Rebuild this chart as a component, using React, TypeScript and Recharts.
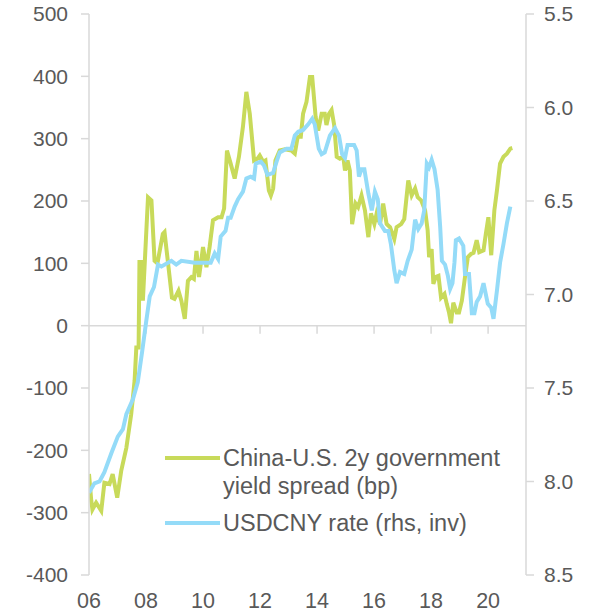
import { Line, LineChart, ReferenceLine, XAxis, YAxis } from 'recharts';

const spreadYears = [
  2006.0, 2006.08, 2006.12, 2006.25, 2006.43, 2006.54, 2006.72, 2006.83, 2006.99, 2007.13,
  2007.31, 2007.48, 2007.6, 2007.66, 2007.74, 2007.77, 2007.83, 2007.89, 2008.07, 2008.19,
  2008.3, 2008.4, 2008.59, 2008.65, 2008.91, 2009.0, 2009.14, 2009.24, 2009.36, 2009.47,
  2009.59, 2009.68, 2009.77, 2009.86, 2010.0, 2010.12, 2010.23, 2010.35, 2010.53, 2010.65,
  2010.74, 2010.84, 2010.97, 2011.11, 2011.26, 2011.4, 2011.52, 2011.64, 2011.79, 2011.91,
  2011.99, 2012.11, 2012.19, 2012.31, 2012.38, 2012.46, 2012.54, 2012.69, 2012.87, 2013.1,
  2013.22, 2013.32, 2013.43, 2013.51, 2013.63, 2013.75, 2013.83, 2013.95, 2014.04, 2014.16,
  2014.27, 2014.33, 2014.42, 2014.51, 2014.6, 2014.69, 2014.8, 2014.92, 2014.98, 2015.07,
  2015.15, 2015.23, 2015.35, 2015.44, 2015.56, 2015.68, 2015.8, 2015.89, 2016.01, 2016.09,
  2016.21, 2016.32, 2016.44, 2016.56, 2016.71, 2016.79, 2016.95, 2017.06, 2017.2, 2017.32,
  2017.44, 2017.53, 2017.65, 2017.79, 2017.88, 2017.93, 2018.02, 2018.08, 2018.16, 2018.26,
  2018.35, 2018.47, 2018.55, 2018.63, 2018.7, 2018.78, 2018.9, 2018.98, 2019.08, 2019.19,
  2019.29, 2019.4, 2019.49, 2019.6, 2019.69, 2019.84, 2019.92, 2020.01, 2020.11, 2020.22,
  2020.31, 2020.42, 2020.54, 2020.66, 2020.78, 2020.85,
]
const spreadBp = [
  -238, -281, -295, -284, -297, -252, -254, -238, -276, -233,
  -196, -142, -88, -35, -35, 102, 102, 40, 206, 201,
  104, 100, 147, 150, 45, 43, 56, 40, 11, 72,
  78, 75, 120, 78, 126, 94, 126, 169, 174, 174,
  188, 281, 260, 236, 271, 319, 375, 340, 265, 268,
  273, 263, 265, 217, 209, 220, 265, 281, 283, 281,
  276, 303, 303, 340, 359, 399, 399, 335, 313, 340,
  340, 322, 340, 346, 322, 271, 268, 271, 249, 265,
  249, 163, 196, 190, 209, 185, 142, 180, 163, 180,
  163, 196, 163, 158, 139, 158, 163, 171, 233, 209,
  220, 206, 201, 185, 153, 110, 123, 67, 78, 80,
  45, 51, 35, 21, 4, 37, 21, 21, 40, 78,
  110, 115, 117, 137, 118, 121, 147, 174, 113, 185,
  217, 260, 271, 276, 284, 285,
]

const fxYears = [
  2006.0, 2006.19, 2006.37, 2006.54, 2006.78, 2007.01, 2007.19, 2007.31, 2007.54, 2007.71,
  2007.86, 2008.01, 2008.13, 2008.28, 2008.42, 2008.54, 2008.89, 2009.06, 2009.24, 2009.71,
  2010.27, 2010.41, 2010.53, 2010.62, 2010.79, 2010.88, 2010.97, 2011.11, 2011.23, 2011.4,
  2011.52, 2011.67, 2011.79, 2011.85, 2012.03, 2012.14, 2012.26, 2012.46, 2012.58, 2012.69,
  2012.93, 2013.1, 2013.22, 2013.34, 2013.51, 2013.69, 2013.83, 2013.92, 2014.06, 2014.16,
  2014.27, 2014.45, 2014.63, 2014.77, 2014.88, 2014.98, 2015.07, 2015.3, 2015.39, 2015.47,
  2015.56, 2015.66, 2015.8, 2015.92, 2016.03, 2016.13, 2016.21, 2016.38, 2016.5, 2016.59,
  2016.71, 2016.79, 2016.91, 2017.06, 2017.18, 2017.32, 2017.44, 2017.55, 2017.67, 2017.76,
  2017.85, 2017.93, 2018.02, 2018.12, 2018.23, 2018.32, 2018.38, 2018.49, 2018.59, 2018.67,
  2018.75, 2018.82, 2018.87, 2018.98, 2019.13, 2019.19, 2019.33, 2019.43, 2019.52, 2019.6,
  2019.72, 2019.84, 2019.99, 2020.11, 2020.19, 2020.31, 2020.42, 2020.54, 2020.66, 2020.78,
]
const usdcny = [
  8.06, 8.01, 8.0, 7.95, 7.85, 7.76, 7.72, 7.64, 7.56, 7.47,
  7.31, 7.14, 7.01, 6.96, 6.84, 6.85, 6.82, 6.84, 6.82, 6.83,
  6.83, 6.78, 6.81, 6.69, 6.66, 6.59, 6.59, 6.53, 6.49, 6.45,
  6.38, 6.37, 6.38, 6.3, 6.29, 6.31, 6.36, 6.35, 6.29, 6.24,
  6.22, 6.22, 6.15, 6.13, 6.12, 6.09, 6.06, 6.09, 6.22, 6.25,
  6.24, 6.15, 6.11, 6.15, 6.25, 6.27, 6.2, 6.2, 6.23, 6.37,
  6.33, 6.33, 6.46, 6.55, 6.45, 6.49, 6.62, 6.66, 6.66, 6.73,
  6.87, 6.94, 6.88, 6.89, 6.82, 6.76, 6.6, 6.65, 6.62, 6.55,
  6.3, 6.32, 6.28, 6.33, 6.44, 6.64, 6.82, 6.84, 6.9, 6.97,
  6.94, 6.83, 6.71, 6.7, 6.74, 6.89, 6.89, 7.1, 7.1, 7.04,
  7.01, 6.94, 7.05, 7.07, 7.13, 6.98, 6.83, 6.73, 6.62, 6.53,
]

const yearTicks = [2006, 2008, 2010, 2012, 2014, 2016, 2018, 2020]
const bpTicks = [-400, -300, -200, -100, 0, 100, 200, 300, 400, 500]
const fxTicks = [5.5, 6.0, 6.5, 7.0, 7.5, 8.0, 8.5]
const seriesNames = ["China-U.S. 2y government yield spread (bp)", "USDCNY rate (rhs, inv)"]

const GREEN = "#c8da5a"
const BLUE = "#94dbf8"
const GRID = "#d9d9d9"
const TEXT = "#595959"
const FONT = "'Liberation Sans', Arial, sans-serif"

const spreadData = spreadYears.map((year, i) => ({ year, v: spreadBp[i] }))
const fxData = fxYears.map((year, i) => ({ year, v: usdcny[i] }))

function LegendBox() {
  const colors = [GREEN, BLUE]
  return (
    <div
      style={{
        position: 'absolute', left: 165, top: 444, width: 360,
        fontFamily: FONT, fontSize: 23.5, color: TEXT, lineHeight: '28px',
      }}
    >
      {seriesNames.map((name, i) => (
        <div key={name} style={{ display: 'flex', alignItems: 'flex-start', marginBottom: 9 }}>
          <div style={{ width: 55, height: 4, background: colors[i], marginTop: 12, marginRight: 3, flexShrink: 0 }} />
          <div style={{ width: 290 }}>{name}</div>
        </div>
      ))}
    </div>
  )
}

export default function App() {
  const tickStyle = { fill: TEXT, fontSize: 21, fontFamily: FONT }
  return (
    <div style={{ position: 'absolute', left: 0, top: 0, width: 598, height: 615, background: '#fff' }}>
      <LineChart width={598} height={615} margin={{ top: 14, right: 0, bottom: 0, left: 0 }}>
        <XAxis
          dataKey="year"
          type="number"
          domain={[2006, 2021.33]}
          ticks={yearTicks}
          allowDataOverflow
          tickFormatter={(v: number) => String(v).slice(2)}
          axisLine={false}
          tickLine={false}
          tickSize={0}
          tickMargin={18}
          height={40}
          tick={{ ...tickStyle, fontSize: 21.5 }}
        />
        <YAxis
          yAxisId="left"
          domain={[-400, 500]}
          ticks={bpTicks}
          width={89}
          axisLine={{ stroke: GRID, strokeWidth: 1.5 }}
          tickLine={{ stroke: GRID, strokeWidth: 1.5 }}
          tickSize={8}
          tickMargin={13}
          tick={tickStyle}
        />
        <YAxis
          yAxisId="right"
          orientation="right"
          reversed
          domain={[5.5, 8.5]}
          ticks={fxTicks}
          width={72}
          axisLine={{ stroke: GRID, strokeWidth: 1.5 }}
          tickLine={{ stroke: GRID, strokeWidth: 1.5 }}
          tickSize={8}
          tickMargin={10}
          tickFormatter={(v: number) => v.toFixed(1)}
          tick={tickStyle}
        />
        <ReferenceLine yAxisId="left" y={0} stroke={GRID} strokeWidth={1.5} />
        {yearTicks.slice(1).map((yr) => (
          <ReferenceLine
            key={yr}
            yAxisId="left"
            segment={[{ x: yr, y: 0 }, { x: yr, y: -13 }]}
            stroke={GRID}
            strokeWidth={1.5}
          />
        ))}
        <Line
          yAxisId="left"
          data={spreadData}
          dataKey="v"
          name={seriesNames[0]}
          stroke={GREEN}
          strokeWidth={4}
          dot={false}
          isAnimationActive={false}
        />
        <Line
          yAxisId="right"
          data={fxData}
          dataKey="v"
          name={seriesNames[1]}
          stroke={BLUE}
          strokeWidth={4}
          dot={false}
          isAnimationActive={false}
        />
      </LineChart>
      <LegendBox />
    </div>
  )
}
